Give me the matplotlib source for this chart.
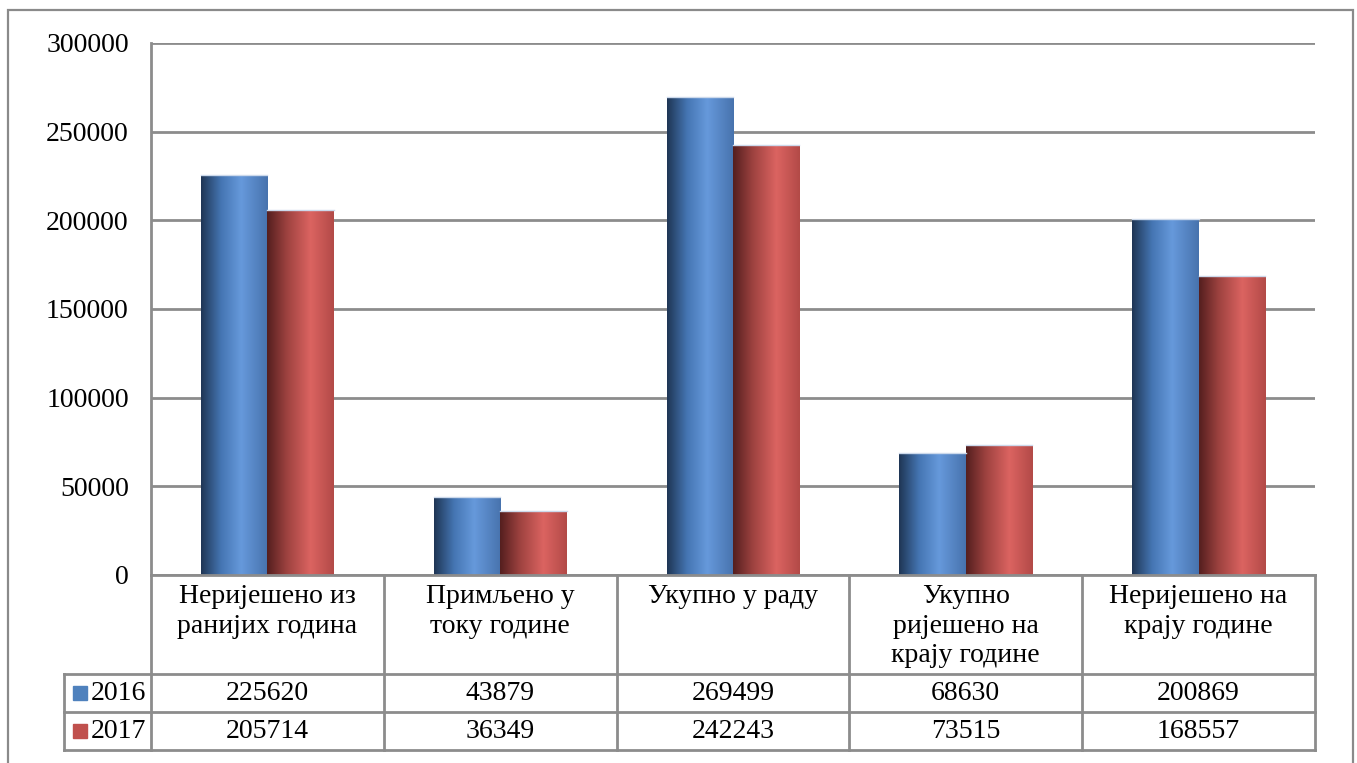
import numpy as np
import matplotlib
matplotlib.use("Agg")
import matplotlib.pyplot as plt
from matplotlib.colors import LinearSegmentedColormap
from matplotlib.patches import Rectangle
from matplotlib.lines import Line2D

categories = ["Неријешено из\nранијих година", "Примљено у\nтоку године", "Укупно у раду",
              "Укупно\nријешено на\nкрају године", "Неријешено на\nкрају године"]
series_names = ["2016", "2017"]
values_2016 = [225620, 43879, 269499, 68630, 200869]
values_2017 = [205714, 36349, 242243, 73515, 168557]
yticks = [0, 50000, 100000, 150000, 200000, 250000, 300000]

W, H = 1357, 763
plt.rcParams['font.family'] = ['Liberation Serif', 'DejaVu Serif']
FS = 20

fig = plt.figure(figsize=(W / 100, H / 100), dpi=100)
px_l, px_r, px_t, px_b = 151, 1315, 43, 575
ax = fig.add_axes([px_l / W, 1 - px_b / H, (px_r - px_l) / W, (px_b - px_t) / H])

# outer frame
fig.add_artist(Rectangle((7.5 / W, -0.05), (1353 - 7.5) / W, 1.05 - 9.5 / H,
                         transform=fig.transFigure, fill=False, edgecolor='#8a8a8a', lw=1.6))

x = np.arange(len(categories))
bw = 66.3 / 232.8
grid_c = '#8c8c8c'
ax.set_ylim(0, 300000)
ax.set_xlim(-0.5, len(categories) - 0.5)
ax.set_yticks(yticks)
ax.set_yticklabels([str(v) for v in yticks], fontsize=FS)
ax.tick_params(axis='y', length=0, pad=16)
ax.set_xticks([])
for s in ['top', 'right', 'bottom']:
    ax.spines[s].set_visible(False)
ax.spines['left'].set_color(grid_c)
ax.spines['left'].set_linewidth(2)
ax.grid(axis='y', color=grid_c, lw=2)
ax.set_axisbelow(True)

blue_cmap = LinearSegmentedColormap.from_list('b', [(0, (0.12, 0.21, 0.33)), (0.3, (0.27, 0.46, 0.70)),
                                                   (0.6, (0.40, 0.60, 0.86)), (1.0, (0.28, 0.45, 0.68))])
red_cmap = LinearSegmentedColormap.from_list('r', [(0, (0.33, 0.12, 0.12)), (0.3, (0.62, 0.26, 0.25)),
                                                  (0.65, (0.86, 0.39, 0.38)), (1.0, (0.70, 0.29, 0.28))])
grad = np.linspace(0, 1, 256).reshape(1, -1)

for vals, off, cmap, base in [(values_2016, -bw / 2, blue_cmap, '#4f81bd'),
                              (values_2017, bw / 2, red_cmap, '#c0504d')]:
    bars = ax.bar(x + off, vals, width=bw, color=base, edgecolor='none', zorder=2)
    for b in bars:
        x0, w, h = b.get_x(), b.get_width(), b.get_height()
        im = ax.imshow(grad, cmap=cmap, extent=[x0, x0 + w, 0, h], aspect='auto', zorder=3)
        im.set_clip_path(b)
        ax.plot([x0, x0 + w], [h, h], color=(0.8, 0.85, 0.92), lw=1, zorder=4)
ax.set_xlim(-0.5, len(categories) - 0.5)
ax.set_ylim(0, 300000)

# x axis line
ax.axhline(0, color=grid_c, lw=2, zorder=5, clip_on=False)

# data table
tr = ax.get_xaxis_transform()
def ay(py):
    return (px_b - py) / (px_b - px_t)
row1, row2, row3 = 674.3, 712.3, 750
leg_left = -0.5 + (64 - px_l) / 232.8
lk = dict(color=grid_c, lw=2, transform=tr, clip_on=False)
for b in np.arange(-0.5, len(categories), 1.0):
    ax.add_line(Line2D([b, b], [ay(px_b), ay(row3)], **lk))
ax.add_line(Line2D([leg_left, leg_left], [ay(row1), ay(row3)], **lk))
for r in (row1, row2, row3):
    ax.add_line(Line2D([leg_left, len(categories) - 0.5], [ay(r), ay(r)], **lk))

for i, c in enumerate(categories):
    ax.text(i, ay(584), c, transform=tr, ha='center', va='top', fontsize=FS, linespacing=1.25)

rows_y = [(row1 + row2) / 2, (row2 + row3) / 2]
for vals, ry, name, col in [(values_2016, rows_y[0], series_names[0], '#4f81bd'),
                            (values_2017, rows_y[1], series_names[1], '#c0504d')]:
    for i, v in enumerate(vals):
        ax.text(i, ay(ry), str(v), transform=tr, ha='center', va='center', fontsize=FS)
    sx = -0.5 + (73 - px_l) / 232.8
    sw = 14 / 232.8
    ax.add_patch(Rectangle((sx, ay(ry + 7)), sw, 14 / (px_b - px_t), transform=tr,
                           color=col, clip_on=False))
    ax.text(-0.5 + (91 - px_l) / 232.8, ay(ry), name, transform=tr, ha='left', va='center', fontsize=FS)

fig.savefig('out.png', dpi=100)
